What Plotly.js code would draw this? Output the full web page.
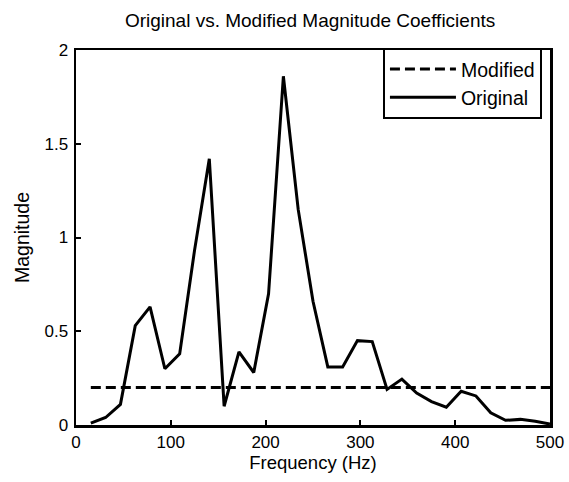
<!DOCTYPE html>
<html>
<head>
<meta charset="utf-8">
<script src="https://cdn.plot.ly/plotly-3.0.1.min.js"></script>
<style>html,body{margin:0;padding:0;background:#fff;}#chart{width:569px;height:482px;}</style>
</head>
<body>
<div id="chart"></div>
<script>
const frequency = [15.625, 31.25, 46.875, 62.5, 78.125, 93.75, 109.375, 125, 140.625, 156.25,
  171.875, 187.5, 203.125, 218.75, 234.375, 250, 265.625, 281.25, 296.875, 312.5,
  328.125, 343.75, 359.375, 375, 390.625, 406.25, 421.875, 437.5, 453.125, 468.75,
  484.375, 500];
const original = [0.01, 0.04, 0.11, 0.53, 0.63, 0.30, 0.38, 0.93, 1.42, 0.10,
  0.39, 0.28, 0.70, 1.86, 1.15, 0.66, 0.31, 0.31, 0.45, 0.445,
  0.19, 0.245, 0.17, 0.125, 0.095, 0.18, 0.155, 0.065, 0.025, 0.03,
  0.02, 0.005];
const modified = [0.2, 0.2, 0.2, 0.2, 0.2, 0.2, 0.2, 0.2, 0.2, 0.2,
  0.2, 0.2, 0.2, 0.2, 0.2, 0.2, 0.2, 0.2, 0.2, 0.2,
  0.2, 0.2, 0.2, 0.2, 0.2, 0.2, 0.2, 0.2, 0.2, 0.2,
  0.2, 0.2];
const xTicks = [0, 100, 200, 300, 400, 500];
const yTicks = [0, 0.5, 1, 1.5, 2];
const yTickLabels = ['0', '0.5', '1', '1.5', '2'];

const fontFamily = '"Liberation Sans", Arial, Helvetica, sans-serif';

const traces = [
  {x: frequency, y: modified, name: 'Modified', mode: 'lines', type: 'scatter',
   line: {color: '#000', width: 3, dash: '10px,5px'}},
  {x: frequency, y: original, name: 'Original', mode: 'lines', type: 'scatter',
   line: {color: '#000', width: 3}}
];

const layout = {
  width: 569, height: 482,
  margin: {l: 76, r: 19, t: 50, b: 57, pad: 0},
  paper_bgcolor: '#fff', plot_bgcolor: '#fff',
  font: {family: fontFamily, color: '#000', size: 16},
  title: {text: 'Original vs. Modified Magnitude Coefficients', font: {size: 19, family: fontFamily, color: '#000'},
          x: 0.545, xanchor: 'center', y: 0.958, yanchor: 'middle'},
  xaxis: {range: [0, 500], tickvals: xTicks, ticktext: xTicks.map(String),
          showline: true, mirror: true, linewidth: 2.5, linecolor: '#000',
          ticks: 'inside', ticklen: 5, tickwidth: 2, tickcolor: '#000',
          showgrid: false, zeroline: false,
          tickfont: {size: 17},
          title: {text: 'Frequency (Hz)', font: {size: 18.5}, standoff: 4}},
  yaxis: {range: [0, 2], tickvals: yTicks, ticktext: yTickLabels,
          showline: true, mirror: true, linewidth: 2.5, linecolor: '#000',
          ticks: 'inside', ticklen: 5, tickwidth: 2, tickcolor: '#000',
          showgrid: false, zeroline: false, ticklabelstandoff: 2,
          tickfont: {size: 17},
          title: {text: 'Magnitude', font: {size: 19.5}, standoff: 10}},
  showlegend: true,
  legend: {x: 0.983, xanchor: 'right', y: 1.006, yanchor: 'top',
           bgcolor: '#fff', bordercolor: '#000', borderwidth: 2,
           font: {size: 19.5}, itemwidth: 66, tracegroupgap: 0}
};

Plotly.newPlot('chart', traces, layout, {displayModeBar: false, staticPlot: true});
</script>
</body>
</html>
